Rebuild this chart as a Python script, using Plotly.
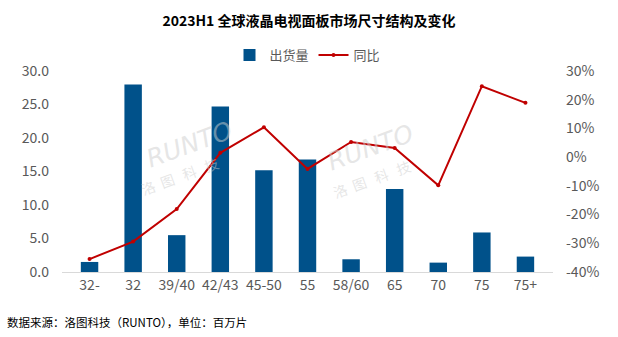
import plotly.graph_objects as go

# Panel size buckets (inches)
sizes = ["32-", "32", "39/40", "42/43", "45-50", "55", "58/60", "65", "70", "75", "75+"]
# Shipments, million panels
shipments = [1.5, 28.0, 5.5, 24.7, 15.2, 16.8, 1.9, 12.4, 1.4, 5.9, 2.3]
# Year-over-year change, %
yoy = [-35.5, -29.4, -18.1, 1.5, 10.4, -4.1, 5.3, 3.2, -9.8, 24.7, 18.9]

left_ticks = [0, 5, 10, 15, 20, 25, 30]
right_ticks = [-40, -30, -20, -10, 0, 10, 20, 30]

FONT = "Noto Sans CJK SC"
BLUE = "#00518A"
RED = "#C00000"
GREY = "#595959"

W, H = 618, 337
ML, MR, MT, MB = 62, 65, 71, 65
PW, PH = W - ML - MR, H - MT - MB

fig = go.Figure()
fig.add_trace(go.Bar(
    x=sizes, y=shipments, name="出货量",
    marker=dict(color=BLUE, line=dict(width=0)),
    yaxis="y",
))
fig.add_trace(go.Scatter(
    x=sizes, y=yoy, name="同比", mode="lines+markers",
    line=dict(color=RED, width=2),
    marker=dict(color=RED, size=4),
    yaxis="y2",
))

# faint company watermarks
for (rx, ry), (cx, cy) in [((0.159, 0.632), (0.150, 0.48)), ((0.729, 0.617), (0.720, 0.465))]:
    fig.add_annotation(x=rx, y=ry, xref="paper", yref="paper", text="<i>RUNTO</i>",
                       showarrow=False, textangle=-20,
                       font=dict(family="DejaVu Sans", size=25, color="rgba(205,205,205,0.5)"))
    fig.add_annotation(x=cx, y=cy, xref="paper", yref="paper", text="洛  图   科   技",
                       showarrow=False, textangle=-20,
                       font=dict(family=FONT, size=14, color="rgba(205,205,205,0.5)"))

# source note under the chart
fig.add_annotation(x=(5 - ML) / PW, y=-(322 - (H - MB)) / PH, xref="paper", yref="paper",
                   text="数据来源：洛图科技（RUNTO），单位：百万片",
                   showarrow=False, xanchor="left", yanchor="middle",
                   font=dict(family=FONT, size=11.5, color="#000000"))

fig.update_layout(
    width=W, height=H,
    margin=dict(l=ML, r=MR, t=MT, b=MB),
    paper_bgcolor="white", plot_bgcolor="white",
    font=dict(family=FONT, color=GREY, size=12),
    title=dict(text="<b>2023H1 全球液晶电视面板市场尺寸结构及变化</b>",
               x=0.5, xanchor="center", y=1 - 21 / H, yanchor="middle",
               font=dict(family=FONT, size=14, color="#000000")),
    bargap=0.6,
    showlegend=True,
    legend=dict(orientation="h", x=0.5, xanchor="center", y=1 + 16 / PH, yanchor="middle",
                font=dict(family=FONT, size=13, color=GREY), itemwidth=30,
                traceorder="normal"),
    xaxis=dict(showgrid=False, showline=True, linecolor="#D9D9D9", linewidth=1,
               ticks="", tickfont=dict(size=14, color=GREY)),
    yaxis=dict(range=[0, 30], tickvals=left_ticks, tickformat=".1f",
               showgrid=False, zeroline=False, showline=False, ticks="",
               ticklabelstandoff=12,
               tickfont=dict(size=14, color=GREY)),
    yaxis2=dict(range=[-40, 30], tickvals=right_ticks,
                ticktext=[f"{v}%" for v in right_ticks],
                overlaying="y", side="right", showgrid=False, zeroline=False,
                showline=False, ticks="", ticklabelstandoff=12,
                tickfont=dict(size=14, color=GREY)),
)

fig.write_html("out.html")
